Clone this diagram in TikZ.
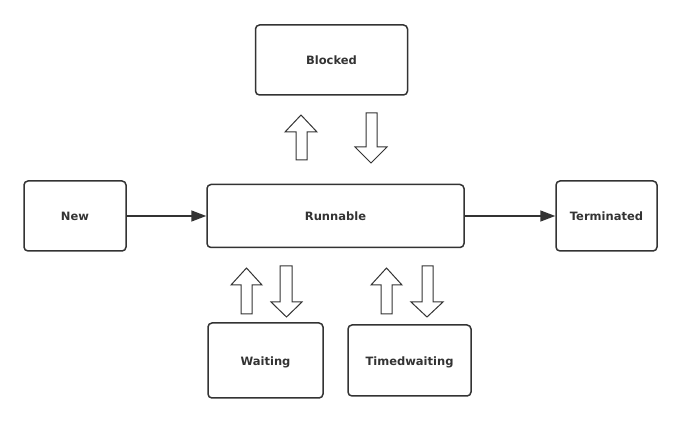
\documentclass[tikz,border=0pt]{standalone}
\usepackage{fontspec}
\setmainfont{DejaVu Sans}
\usetikzlibrary{arrows.meta}
\definecolor{ink}{HTML}{333333}
\tikzset{
  state/.style={draw=ink, line width=1.5pt, rounded corners=4pt, inner sep=0pt,
    text height=10pt, text depth=0pt,
    font=\bfseries\fontsize{11.5}{13}\selectfont, text=ink},
  flow/.style={draw=ink, line width=1.5pt, -{Triangle[length=15pt,width=11pt]}},
  hollow/.style={draw=ink, line width=1pt, fill=white, line join=miter}
}
\begin{document}
\begin{tikzpicture}[x=1pt,y=-1pt]
\useasboundingbox[fill=white] (0,0) rectangle (681,422);
% states
\node[state, minimum width=152pt, minimum height=70pt] (blocked) at (331.5,60) {Blocked};
\node[state, minimum width=102pt, minimum height=70pt] (new) at (75,216) {New};
\node[state, minimum width=257pt, minimum height=63pt] (runnable) at (335.5,216) {Runnable};
\node[state, minimum width=101pt, minimum height=70pt] (term) at (606.5,216) {Terminated};
\node[state, minimum width=115pt, minimum height=75pt] (waiting) at (265.5,360.5) {Waiting};
\node[state, minimum width=123pt, minimum height=71pt] (timed) at (409.5,360.5) {Timedwaiting};
% connectors
\draw[flow] (new) -- (runnable);
\draw[flow] (runnable) -- (term);
% hollow block arrows: Blocked
\draw[hollow] (296,160) -- (296,132) -- (285,132) -- (301,115) -- (317,132) -- (307,132) -- (307,160) -- cycle;
\draw[hollow] (366,113) -- (366,147) -- (355,147) -- (371,163) -- (387,147) -- (377,147) -- (377,113) -- cycle;
% Waiting
\draw[hollow] (241,314) -- (241,285) -- (231,285) -- (246.5,268) -- (262,285) -- (252,285) -- (252,314) -- cycle;
\draw[hollow] (280,266) -- (280,302) -- (271,302) -- (286.5,317) -- (302,302) -- (292,302) -- (292,266) -- cycle;
% Timedwaiting
\draw[hollow] (381,314) -- (381,285) -- (371,285) -- (386.5,268) -- (402,285) -- (392,285) -- (392,314) -- cycle;
\draw[hollow] (422,266) -- (422,302) -- (411,302) -- (427,317) -- (443,302) -- (433,302) -- (433,266) -- cycle;
\end{tikzpicture}
\end{document}
